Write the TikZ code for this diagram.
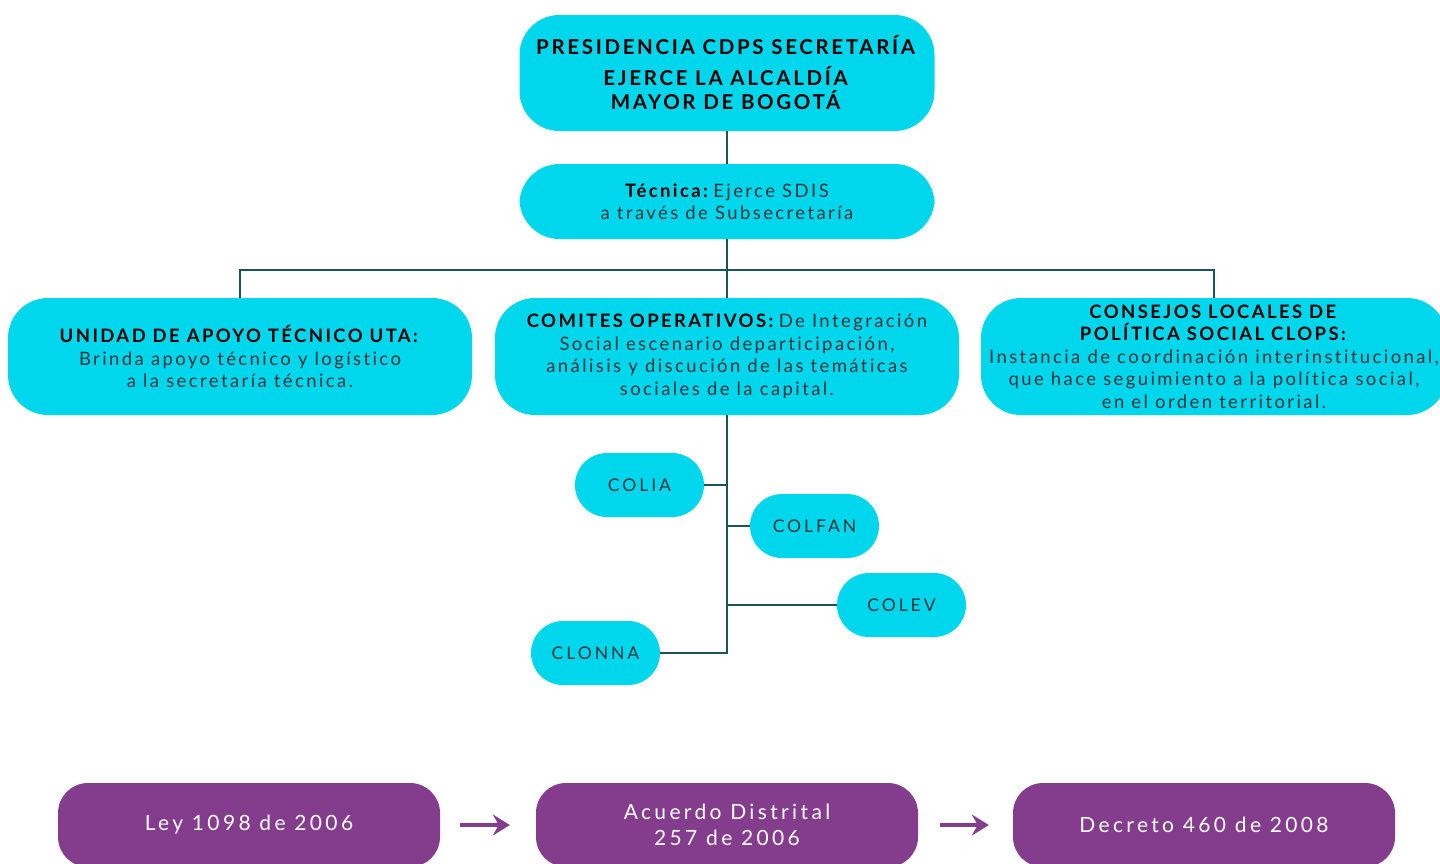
\documentclass[tikz,border=0pt]{standalone}
\usepackage{fontspec}
\setmainfont{Lato}[LetterSpace=13, Ligatures=CommonOff]
\usetikzlibrary{arrows.meta}

\definecolor{cyanbox}{RGB}{0,214,236}
\definecolor{plum}{RGB}{132,60,140}
\definecolor{wire}{RGB}{28,84,94}
\definecolor{ink}{RGB}{22,52,58}

\tikzset{
 box/.style={fill=cyanbox, rounded corners=40, align=center, inner sep=0, text=ink,
   font=\fontsize{18.5}{22.5}\selectfont},
 pill/.style={fill=cyanbox, rounded corners=32, minimum width=129, minimum height=64,
   inner sep=0, text=ink, font=\fontsize{17.5}{20}\selectfont\addfontfeature{LetterSpace=17}},
 law/.style={fill=plum, rounded corners=30, minimum width=382, minimum height=84,
   inner sep=0, align=center, text=white,
   font=\fontsize{21}{26}\selectfont\addfontfeature{LetterSpace=16}},
 wire/.style={draw=wire, line width=1.3},
 flow/.style={draw=plum, line width=4.5, -{Stealth[length=17, width=21, inset=6]}}
}
\newcommand{\head}[1]{\textcolor{black}{\textbf{#1}}}

\begin{document}
\begin{tikzpicture}[x=1pt, y=-1pt]
\useasboundingbox (0,0) rectangle (1440,863);
% cajas principales
\node[box, minimum width=415, minimum height=116, font=\fontsize{20.5}{24}\selectfont] (pres) at (727,73)
  {\head{PRESIDENCIA CDPS SECRETARÍA}\\[7pt]\head{EJERCE LA ALCALDÍA}\\\head{MAYOR DE BOGOTÁ}};
\node[box, minimum width=415, minimum height=75] (tec) at (727,201.5)
  {\head{Técnica:}\,Ejerce SDIS\\a través de Subsecretaría};
\node[box, minimum width=464, minimum height=117] (uta) at (240,356.5)
  {\head{UNIDAD DE APOYO TÉCNICO UTA:}\\Brinda apoyo técnico y logístico\\a la secretaría técnica.};
\node[box, minimum width=464, minimum height=117] (com) at (727,356.5)
  {\head{COMITES OPERATIVOS:}\,De Integración\\Social escenario departicipación,\\análisis y discución de las temáticas\\sociales de la capital.};
\node[box, minimum width=466, minimum height=117] (clops) at (1214,356.5)
  {\head{CONSEJOS LOCALES DE}\\\head{POLÍTICA SOCIAL CLOPS:}\\Instancia de coordinación interinstitucional,\\que hace seguimiento a la política social,\\en el orden territorial.};
\coordinate (bus) at (727,270);
\coordinate (stem) at (727,652);

% comites
\node[pill] (colia) at (639.5,485) {COLIA};
\node[pill] (colfan) at (814.5,526) {COLFAN};
\node[pill] (colev) at (901.5,605) {COLEV};
\node[pill] (clonna) at (595.5,653) {CLONNA};

% conectores
\draw[wire] (pres) -- (tec);
\draw[wire] (tec) -- (bus);
\draw[wire] (uta.north) |- (bus) -| (clops.north);
\draw[wire] (bus) -- (com);
\draw[wire] (com) -- (stem);
\draw[wire] (colia.east) -- (colia.east -| stem);
\draw[wire] (colfan.west) -- (colfan.west -| stem);
\draw[wire] (colev.west) -- (colev.west -| stem);
\draw[wire] (clonna.east) -| (stem);

% normas
\node[law] (ley) at (249,825) {Ley 1098 de 2006};
\node[law] (acuerdo) at (727,825) {Acuerdo Distrital\\257 de 2006};
\node[law] (decreto) at (1204,825) {Decreto 460 de 2008};
\draw[flow] ([xshift=20]ley.east) -- ([xshift=-26]acuerdo.west);
\draw[flow] ([xshift=22]acuerdo.east) -- ([xshift=-24]decreto.west);
\end{tikzpicture}
\end{document}
